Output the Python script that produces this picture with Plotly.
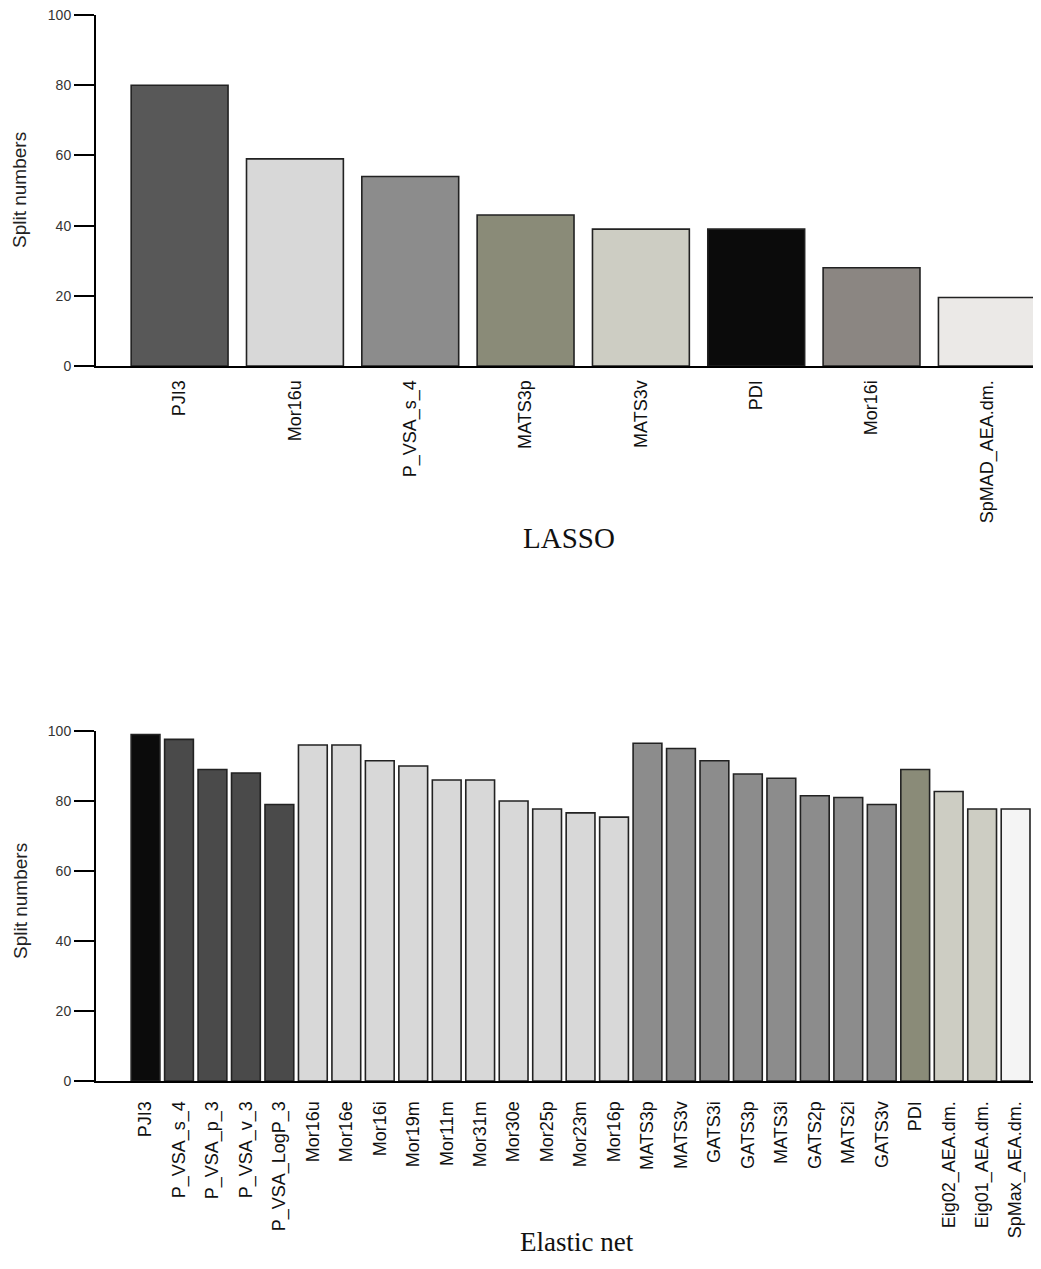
import plotly.graph_objects as go

# ---------------- data ----------------
lasso_labels = ["PJI3", "Mor16u", "P_VSA_s_4", "MATS3p", "MATS3v", "PDI", "Mor16i", "SpMAD_AEA.dm."]
lasso_values = [80, 59, 54, 43, 39, 39, 28, 19.5]

enet_labels = ["PJI3", "P_VSA_s_4", "P_VSA_p_3", "P_VSA_v_3", "P_VSA_LogP_3",
               "Mor16u", "Mor16e", "Mor16i", "Mor19m", "Mor11m", "Mor31m", "Mor30e",
               "Mor25p", "Mor23m", "Mor16p", "MATS3p", "MATS3v", "GATS3i", "GATS3p",
               "MATS3i", "GATS2p", "MATS2i", "GATS3v", "PDI", "Eig02_AEA.dm.",
               "Eig01_AEA.dm.", "SpMax_AEA.dm."]
enet_values = [99, 97.6, 89, 88, 79,
               96, 96, 91.5, 90, 86, 86, 80,
               77.7, 76.6, 75.4, 96.5, 95, 91.5, 87.7,
               86.5, 81.5, 81, 79, 89, 82.7,
               77.7, 77.7]

y_ticks = [0, 20, 40, 60, 80, 100]

# ---------------- styles ----------------
lasso_colors = ["#585858", "#d8d8d8", "#8c8c8c", "#8a8b78", "#cdcdc3", "#0b0b0b", "#8b8682", "#ebe9e7"]
enet_colors = (["#0b0b0b"] + ["#4a4a4a"] * 4 + ["#d8d8d8"] * 10 + ["#8c8c8c"] * 8
               + ["#8a8b78", "#cdcdc3", "#cdcdc3", "#f4f4f4"])

# page is 1041x1269 and the page body has an 8px margin
OFF = 8
W, H = 1041 - 2 * OFF, 1269 - 2 * OFF


def px(p):
    return (p - OFF) / W


def py(p):
    return 1 - (p - OFF) / H


fig = go.Figure()
fig.add_trace(go.Bar(x=lasso_labels, y=lasso_values, xaxis="x", yaxis="y",
                     marker=dict(color=lasso_colors, line=dict(color="#222222", width=1.6)),
                     width=0.84, showlegend=False))
fig.add_trace(go.Bar(x=enet_labels, y=enet_values, xaxis="x2", yaxis="y2",
                     marker=dict(color=enet_colors, line=dict(color="#222222", width=1.6)),
                     width=0.86, showlegend=False))

xdom = [px(96), 1.0]
axis_common = dict(showline=True, linecolor="black", linewidth=2, showgrid=False,
                   zeroline=False, automargin=False, ticklabeloverflow="allow")

fig.update_layout(
    width=W, height=H, autosize=False,
    margin=dict(l=0, r=0, t=0, b=0),
    paper_bgcolor="white", plot_bgcolor="white",
    font=dict(family="Arial, Liberation Sans, sans-serif", color="black"),
    xaxis=dict(domain=xdom, anchor="y", type="category", range=[-0.725, 7.40],
               ticks="", tickangle=-90, tickfont=dict(size=18, color="#111111"),
               ticklabelstandoff=5, **axis_common),
    yaxis=dict(domain=[py(366), py(15)], anchor="x", range=[0, 100],
               tickvals=y_ticks, ticks="outside", ticklen=20, tickwidth=1.5, tickcolor="black",
               tickfont=dict(size=14, color="#333333"), **axis_common),
    xaxis2=dict(domain=xdom, anchor="y2", type="category", range=[-1.48, 26.52],
                ticks="", tickangle=-90, tickfont=dict(size=18, color="#111111"),
                ticklabelstandoff=11, **axis_common),
    yaxis2=dict(domain=[py(1081), py(731)], anchor="x2", range=[0, 100],
                tickvals=y_ticks, ticks="outside", ticklen=20, tickwidth=1.5, tickcolor="black",
                tickfont=dict(size=14, color="#333333"), **axis_common),
    annotations=[
        dict(text="Split numbers", x=px(20), y=py(190), xref="paper", yref="paper",
             textangle=-90, showarrow=False, xanchor="center", yanchor="middle",
             font=dict(size=19, color="#222222")),
        dict(text="Split numbers", x=px(20), y=py(901), xref="paper", yref="paper",
             textangle=-90, showarrow=False, xanchor="center", yanchor="middle",
             font=dict(size=19, color="#222222")),
        dict(text="LASSO", x=px(569), y=py(538), xref="paper", yref="paper",
             showarrow=False, xanchor="center", yanchor="middle",
             font=dict(size=29, family="Liberation Serif, Times New Roman, serif", color="#111111")),
        dict(text="Elastic net", x=px(577), y=py(1242), xref="paper", yref="paper",
             showarrow=False, xanchor="center", yanchor="middle",
             font=dict(size=27, family="Liberation Serif, Times New Roman, serif", color="#111111")),
    ],
)

fig.write_html("out.html")
